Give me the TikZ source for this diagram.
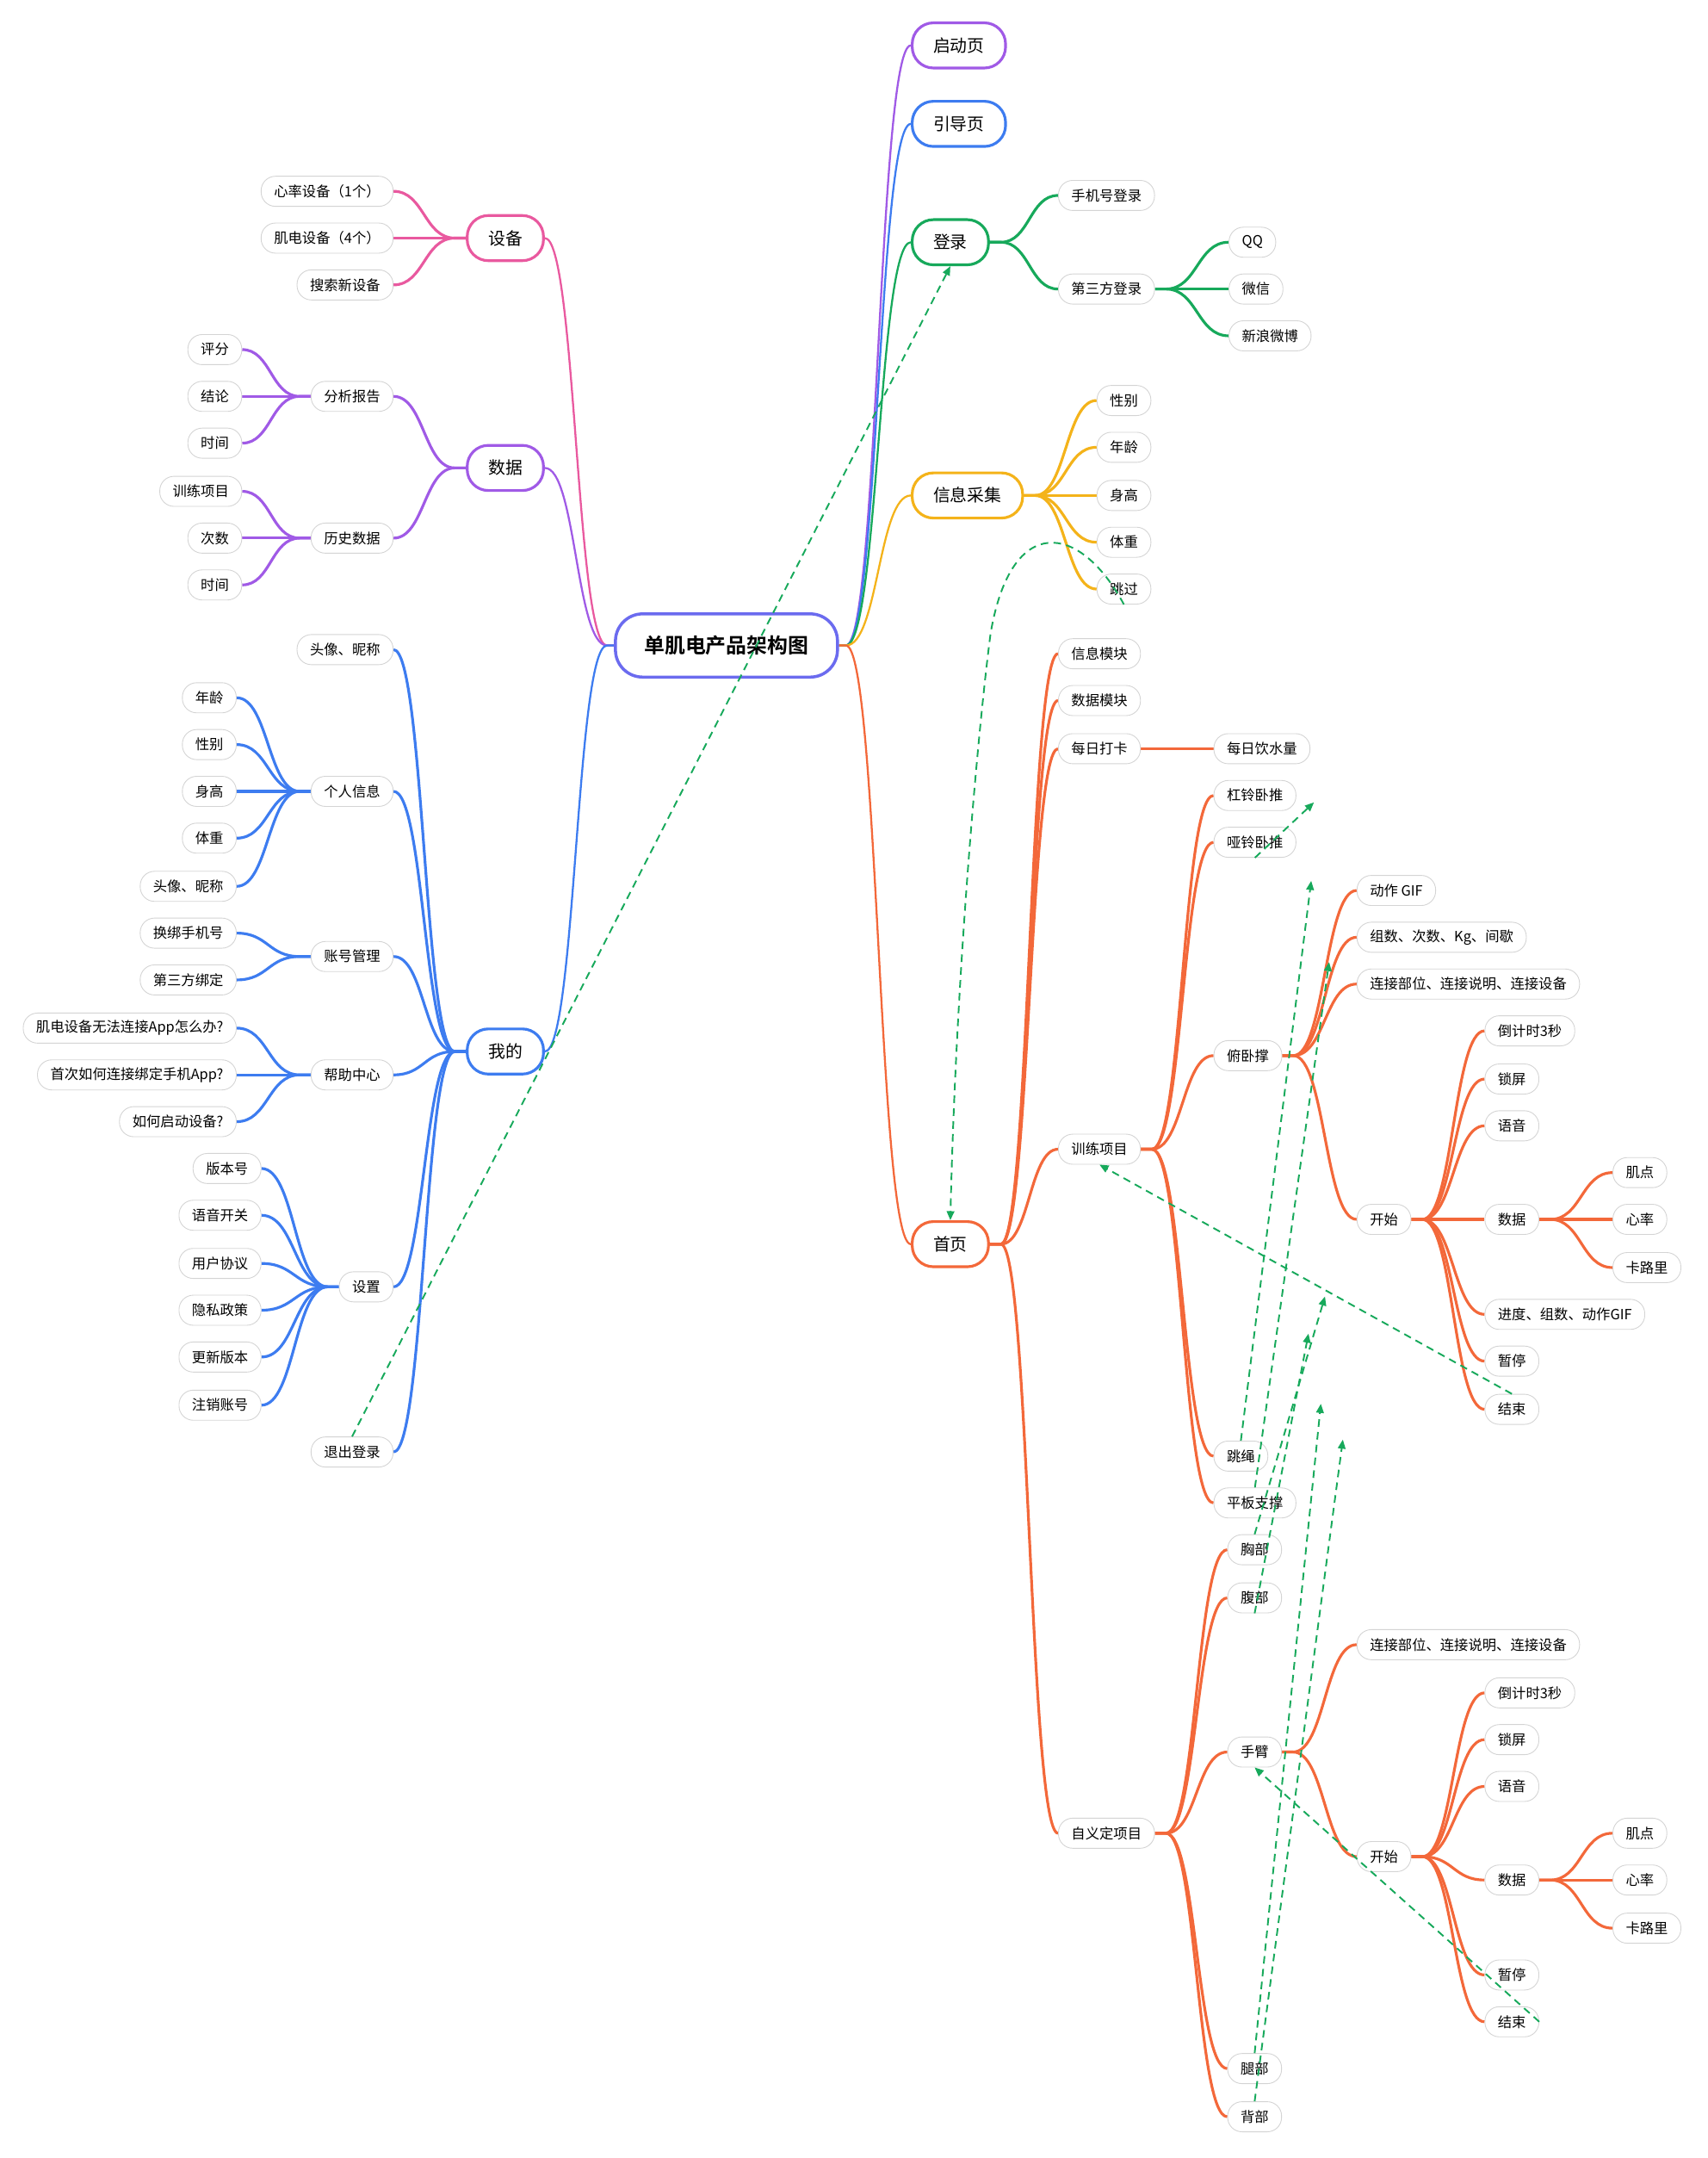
\documentclass[tikz,border=0pt]{standalone}
\usepackage{fontspec}
\setmainfont{Noto Sans CJK SC}[BoldFont={Noto Sans CJK SC Bold}]
\usepackage{tikz}
\usetikzlibrary{arrows.meta,calc,backgrounds}

\definecolor{rootc}{HTML}{6B6BEF}
\definecolor{pinkc}{HTML}{E9599F}
\definecolor{purpc}{HTML}{A05AE6}
\definecolor{bluec}{HTML}{3D7CF0}
\definecolor{greenc}{HTML}{17A95B}
\definecolor{yellc}{HTML}{F4B31A}
\definecolor{orangec}{HTML}{F3683A}

% branch to the right: parent.east -> child.west
\newcommand{\linkR}[4][8]{%
  \coordinate (ls) at ($(#3.east)+(#1,0)$);
  \coordinate (le) at (#4.west);
  \coordinate (lm) at ($(ls)!0.5!(le)$);
  \draw[#2] (#3.east) -- (ls) .. controls (lm |- ls) and (lm |- le) .. (le);}
% branch to the left: parent.west -> child.east
\newcommand{\linkL}[4][8]{%
  \coordinate (ls) at ($(#3.west)+(-#1,0)$);
  \coordinate (le) at (#4.east);
  \coordinate (lm) at ($(ls)!0.5!(le)$);
  \draw[#2] (#3.west) -- (ls) .. controls (lm |- ls) and (lm |- le) .. (le);}

\begin{document}
\begin{tikzpicture}[x=0.032cm, y=-0.032cm,
  every node/.style={font=\fontsize{9.3}{11}\selectfont, inner ysep=0pt},
  leaf/.style={draw=black!17, line width=0.5pt, fill=white, rounded corners=9.5pt,
    minimum height=0.7cm, inner xsep=0.3cm},
  leafR/.style={leaf, anchor=west},
  leafL/.style={leaf, anchor=east},
  topic/.style={line width=1.8pt, fill=white, rounded corners=14pt, minimum height=1.05cm,
    inner xsep=0.49cm, font=\fontsize{11.3}{13}\selectfont},
  topicR/.style={topic, anchor=west},
  topicL/.style={topic, anchor=east},
  root/.style={draw=rootc, line width=2pt, fill=white, rounded corners=18pt, minimum height=1.47cm,
    inner xsep=0.67cm, font=\fontsize{13.6}{16}\selectfont\bfseries},
  br/.style={line width=1.8pt},
  rootln/.style={line width=1.3pt},
  rel/.style={draw=greenc, line width=1.1pt, dash pattern=on 5pt off 3.5pt,
    -{Triangle[length=6pt,width=5pt,fill=greenc]}}]
  \useasboundingbox (0,0) rectangle (1241,1568);

  \node[root] (root) at (528,469) {单肌电产品架构图};

  % right half
  \node[topicR, draw=purpc] (splash) at (662,33) {启动页};
  \node[topicR, draw=bluec] (guide) at (662,90) {引导页};
  \node[topicR, draw=greenc] (login) at (662,176) {登录};
  \node[topicR, draw=yellc] (info) at (662,360) {信息采集};
  \node[topicR, draw=orangec] (home) at (662,904) {首页};

  \node[leafR] (phone) at (769,142) {手机号登录};
  \node[leafR] (third) at (769,210) {第三方登录};
  \foreach \y/\txt/\nm in {176/QQ/qq, 210/微信/wechat, 244/新浪微博/weibo}
    \node[leafR] (\nm) at (893,\y) {\txt};

  \foreach \y/\txt/\nm in {291/性别/sex, 325/年龄/age, 360/身高/height, 394/体重/weight, 428/跳过/skip}
    \node[leafR] (\nm) at (797,\y) {\txt};

  \node[leafR] (hinfo) at (769,475) {信息模块};
  \node[leafR] (hdata) at (769,509) {数据模块};
  \node[leafR] (hcheck) at (769,544) {每日打卡};
  \node[leafR] (water) at (882,544) {每日饮水量};
  \node[leafR] (train) at (769,835) {训练项目};
  \node[leafR] (custom) at (769,1332) {自义定项目};

  \foreach \y/\txt/\nm in {578/杠铃卧推/barbell, 612/哑铃卧推/dumbbell, 767/俯卧撑/pushup,
      1058/跳绳/rope, 1092/平板支撑/plank}
    \node[leafR] (\nm) at (882,\y) {\txt};
  \foreach \y/\txt/\nm in {647/动作 GIF/pgif, 681/组数、次数、Kg、间歇/pset,
      715/连接部位、连接说明、连接设备/pconn, 886/开始/pstart}
    \node[leafR] (\nm) at (986,\y) {\txt};
  \foreach \y/\txt/\nm in {749/倒计时3秒/pcount, 784/锁屏/plock, 818/语音/pvoice, 886/数据/pdata,
      955/进度、组数、动作GIF/pprog, 989/暂停/ppause, 1024/结束/pend}
    \node[leafR] (\nm) at (1079,\y) {\txt};
  \foreach \y/\txt/\nm in {852/肌点/ppoint, 886/心率/prate, 921/卡路里/pcal}
    \node[leafR] (\nm) at (1172,\y) {\txt};

  \foreach \y/\txt/\nm in {1126/胸部/chest, 1161/腹部/belly, 1273/手臂/arm, 1503/腿部/leg, 1538/背部/back}
    \node[leafR] (\nm) at (892,\y) {\txt};
  \node[leafR] (aconn) at (986,1195) {连接部位、连接说明、连接设备};
  \node[leafR] (astart) at (986,1349) {开始};
  \foreach \y/\txt/\nm in {1230/倒计时3秒/acount, 1264/锁屏/alock, 1298/语音/avoice, 1366/数据/adata,
      1435/暂停/apause, 1469/结束/aend}
    \node[leafR] (\nm) at (1079,\y) {\txt};
  \foreach \y/\txt/\nm in {1332/肌点/apoint, 1366/心率/arate, 1401/卡路里/acal}
    \node[leafR] (\nm) at (1172,\y) {\txt};

  % left half
  \node[topicL, draw=pinkc] (device) at (396,173) {设备};
  \node[topicL, draw=purpc] (data) at (396,340) {数据};
  \node[topicL, draw=bluec] (mine) at (396,764) {我的};

  \foreach \y/\txt/\nm in {139/心率设备（1个）/dheart, 173/肌电设备（4个）/demg, 207/搜索新设备/dsearch,
      288/分析报告/report, 391/历史数据/history}
    \node[leafL] (\nm) at (286,\y) {\txt};
  \foreach \y/\txt/\nm in {254/评分/rscore, 288/结论/rconcl, 322/时间/rtime,
      357/训练项目/htrain, 391/次数/hcount, 425/时间/htime}
    \node[leafL] (\nm) at (176,\y) {\txt};

  \foreach \y/\txt/\nm in {472/头像、昵称/mavatar, 575/个人信息/personal, 695/账号管理/account,
      781/帮助中心/help, 935/设置/settings, 1055/退出登录/logout}
    \node[leafL] (\nm) at (286,\y) {\txt};
  \foreach \y/\txt/\nm in {507/年龄/mage, 541/性别/msex, 575/身高/mheight, 609/体重/mweight,
      644/头像、昵称/mavatarb, 678/换绑手机号/mphone, 712/第三方绑定/mthird,
      747/肌电设备无法连接App怎么办?/hq1, 781/首次如何连接绑定手机App?/hq2, 815/如何启动设备?/hq3}
    \node[leafL] (\nm) at (172,\y) {\txt};
  \foreach \y/\txt/\nm in {849/版本号/sver, 883/语音开关/svoice, 918/用户协议/sterms, 952/隐私政策/sprivacy,
      986/更新版本/supdate, 1021/注销账号/sdelete}
    \node[leafL] (\nm) at (190,\y) {\txt};

  \begin{scope}[on background layer]
    \fill[white] (0,0) rectangle (1241,1568);
    \linkR[5]{rootln,purpc}{root}{splash}
    \linkR[5]{rootln,bluec}{root}{guide}
    \linkR[5]{rootln,greenc}{root}{login}
    \linkR[5]{rootln,yellc}{root}{info}
    \linkR[5]{rootln,orangec}{root}{home}
    \linkL[5]{rootln,pinkc}{root}{device}
    \linkL[5]{rootln,purpc}{root}{data}
    \linkL[5]{rootln,bluec}{root}{mine}

    \foreach \nm in {phone,third} {\linkR{br,greenc}{login}{\nm}}
    \foreach \nm in {qq,wechat,weibo} {\linkR{br,greenc}{third}{\nm}}
    \foreach \nm in {sex,age,height,weight,skip} {\linkR{br,yellc}{info}{\nm}}

    \foreach \nm in {hinfo,hdata,hcheck,train,custom} {\linkR{br,orangec}{home}{\nm}}
    \linkR{br,orangec}{hcheck}{water}
    \foreach \nm in {barbell,dumbbell,pushup,rope,plank} {\linkR{br,orangec}{train}{\nm}}
    \foreach \nm in {pgif,pset,pconn,pstart} {\linkR{br,orangec}{pushup}{\nm}}
    \foreach \nm in {pcount,plock,pvoice,pdata,pprog,ppause,pend} {\linkR{br,orangec}{pstart}{\nm}}
    \foreach \nm in {ppoint,prate,pcal} {\linkR{br,orangec}{pdata}{\nm}}
    \foreach \nm in {chest,belly,arm,leg,back} {\linkR{br,orangec}{custom}{\nm}}
    \foreach \nm in {aconn,astart} {\linkR{br,orangec}{arm}{\nm}}
    \foreach \nm in {acount,alock,avoice,adata,apause,aend} {\linkR{br,orangec}{astart}{\nm}}
    \foreach \nm in {apoint,arate,acal} {\linkR{br,orangec}{adata}{\nm}}

    \foreach \nm in {dheart,demg,dsearch} {\linkL{br,pinkc}{device}{\nm}}
    \foreach \nm in {report,history} {\linkL{br,purpc}{data}{\nm}}
    \foreach \nm in {rscore,rconcl,rtime} {\linkL{br,purpc}{report}{\nm}}
    \foreach \nm in {htrain,hcount,htime} {\linkL{br,purpc}{history}{\nm}}

    \foreach \nm in {mavatar,personal,account,help,settings,logout} {\linkL{br,bluec}{mine}{\nm}}
    \foreach \nm in {mage,msex,mheight,mweight,mavatarb} {\linkL{br,bluec}{personal}{\nm}}
    \foreach \nm in {mphone,mthird} {\linkL{br,bluec}{account}{\nm}}
    \foreach \nm in {hq1,hq2,hq3} {\linkL{br,bluec}{help}{\nm}}
    \foreach \nm in {sver,svoice,sterms,sprivacy,supdate,sdelete} {\linkL{br,bluec}{settings}{\nm}}
  \end{scope}

  % dashed relations
  \draw[rel] (logout.north) -- (login.south);
  \draw[rel] (skip.south) .. controls (785,380) and (735,372) .. (720,460)
    .. controls (712,520) and (695,700) .. (home.north);
  \draw[rel] (pend.north) -- (train.south);
  \draw[rel] (aend.east) -- (arm.south);
  \coordinate (tipa) at (955,583);
  \coordinate (tipb) at (953,640);
  \coordinate (tipc) at (966,699);
  \coordinate (tipd) at (963,942);
  \coordinate (tipe) at (951,969);
  \coordinate (tipf) at (960,1020);
  \coordinate (tipg) at (976,1046);
  \draw[rel] (dumbbell.south) -- (tipa);
  \draw[rel] (rope.north) -- (tipb);
  \draw[rel] (plank.north) -- (tipc);
  \draw[rel] (chest.north) -- (tipd);
  \draw[rel] (belly.south) -- (tipe);
  \draw[rel] (leg.north) -- (tipf);
  \draw[rel] (back.north) -- (tipg);
\end{tikzpicture}
\end{document}
